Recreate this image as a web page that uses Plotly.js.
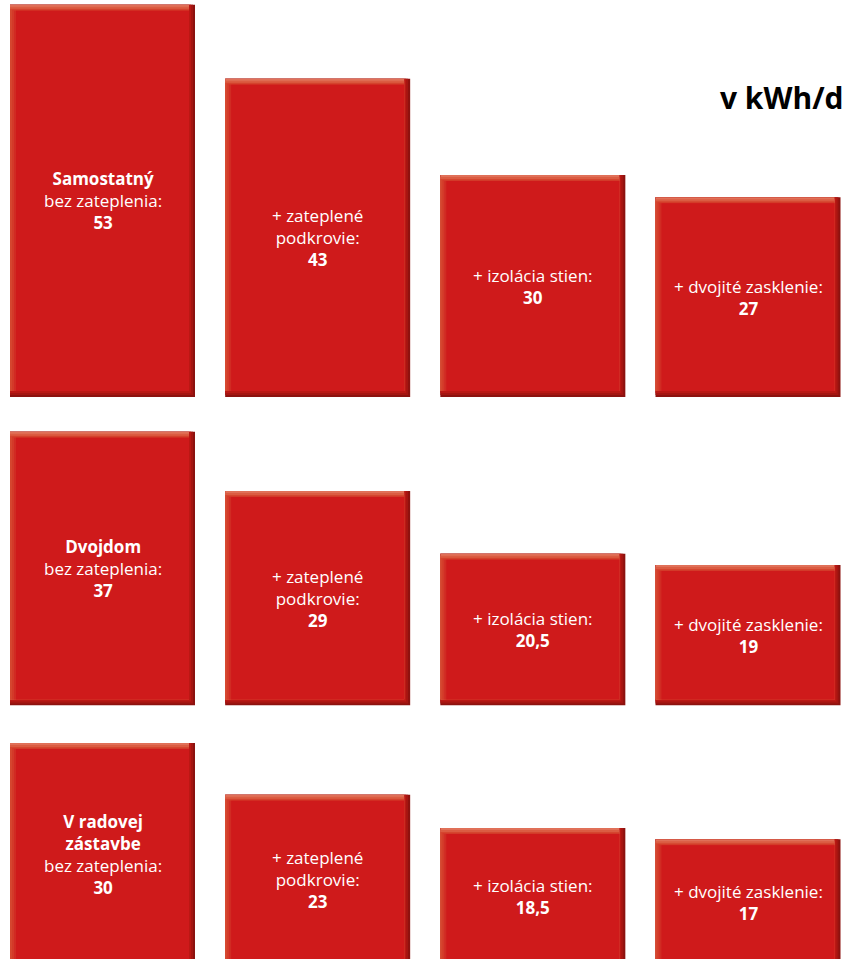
<!DOCTYPE html>
<html>
<head>
<meta charset="utf-8">
<script src="https://cdn.plot.ly/plotly-3.0.1.min.js"></script>
<style>html,body{margin:0;padding:0;background:#fff;}#chart{width:845px;height:959px;}</style>
</head>
<body>
<div id="chart"></div>
<script>
// ---- data ----
var unitTitle = 'v kWh/d';
var houseTypes = ['Samostatný', 'Dvojdom', 'V radovej<br>zástavbe'];
var steps = ['bez zateplenia:', '+ zateplené<br>podkrovie:', '+ izolácia stien:', '+ dvojité zasklenie:'];
var samostatny = [53, 43, 30, 27];
var dvojdom = [37, 29, 20.5, 19];
var radovaZastavba = [30, 23, 18.5, 17];
var rowsData = [samostatny, dvojdom, radovaZastavba];

// ---- layout geometry (px) ----
var W = 845, H = 959;
var pxPerUnitY = 7.4;
var pxPerUnitX = 215.17;
var xMin = -102.5 / pxPerUnitX;
var xMax = xMin + W / pxPerUnitX;
var barW = 185 / pxPerUnitX;
// rows: [top px, bottom px of domain, px below domain where value 0 lies]
var rowsPx = [[0, 397, 0], [405, 705.5, 0], [715, 959, 6]];

var RED = '#cf1a1b';
// bevel layers: [insetLeft, insetRight, insetBottom, insetTop] in px, colour
var layers = [
  [0, 0, 0, 0, '#8c120f'],
  [0, 2, 2, 0, '#a51511'],
  [0, 4, 4, 0, '#ba1814'],
  [0, 6, 6, 0, '#e07058'],
  [0, 6, 6, 2, '#db5c42'],
  [0, 6, 6, 4, '#d5462f'],
  [2, 6, 6, 5, '#d33a29'],
  [4, 6, 6, 6, '#d12b23'],
  [6, 6, 6, 6, RED]
];

function fmt(v) { return String(v).replace('.', ','); }

var traces = [];
var annotations = [];
var layout = {
  width: W, height: H,
  margin: {l: 0, r: 0, t: 0, b: 0, pad: 0},
  paper_bgcolor: '#ffffff', plot_bgcolor: '#ffffff',
  showlegend: false,
  barmode: 'overlay',
  hovermode: false,
  font: {family: 'Open Sans, sans-serif'}
};

rowsData.forEach(function (vals, r) {
  var sfx = r === 0 ? '' : String(r + 1);
  var xa = 'x' + sfx, ya = 'y' + sfx;
  var px = rowsPx[r];
  var hPx = px[1] - px[0];
  var y0 = px[2] / pxPerUnitY;
  layout['xaxis' + sfx] = {domain: [0, 1], range: [xMin, xMax], visible: false, fixedrange: true, anchor: ya};
  layout['yaxis' + sfx] = {domain: [1 - px[1] / H, 1 - px[0] / H], range: [y0, y0 + hPx / pxPerUnitY], visible: false, fixedrange: true, anchor: xa};
  var xs = vals.map(function (v, i) { return i; });
  layers.forEach(function (L) {
    var il = L[0] / pxPerUnitX, ir = L[1] / pxPerUnitX;
    var ib = L[2] / pxPerUnitY, it = L[3] / pxPerUnitY;
    traces.push({
      type: 'bar', x: xs,
      y: vals.map(function (v) { return v - ib - it; }),
      base: vals.map(function () { return ib; }),
      width: barW - il - ir,
      offset: -barW / 2 + il,
      xaxis: xa, yaxis: ya,
      marker: {color: L[4], line: {width: 0}},
      hoverinfo: 'skip'
    });
  });
  vals.forEach(function (v, i) {
    var txt = (i === 0 ? '<b>' + houseTypes[r] + '</b><br>' : '') + steps[i] + '<br><b>' + fmt(v) + '</b>';
    annotations.push({
      xref: xa, yref: ya, x: i, y: v / 2,
      text: txt, showarrow: false,
      xanchor: 'center', yanchor: 'middle', align: 'center',
      font: {family: 'Open Sans, sans-serif', size: 17, color: '#ffffff'}
    });
  });
});

annotations.push({
  xref: 'paper', yref: 'paper', x: 846 / W, y: 1 - 98 / H,
  xanchor: 'right', yanchor: 'middle', showarrow: false,
  text: '<b>' + unitTitle + '</b>',
  font: {family: 'Open Sans, sans-serif', size: 30, color: '#000000'}
});
layout.annotations = annotations;

Plotly.newPlot('chart', traces, layout, {displayModeBar: false, staticPlot: true});
</script>
</body>
</html>
